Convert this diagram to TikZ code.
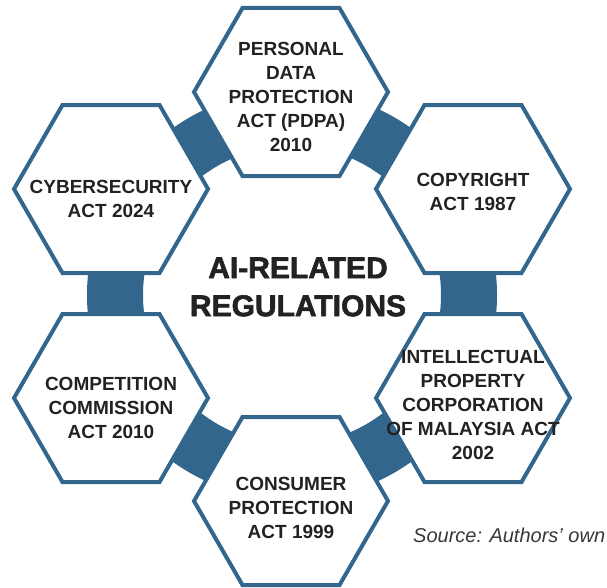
\documentclass[tikz,border=0pt]{standalone}
\usepackage{fontspec}
\setmainfont{Liberation Sans}
\newfontfamily\heavyfont{Liberation Sans}[BoldFeatures={FakeBold=2}]
\usepackage{xcolor}
\usepackage{tikz}
\usetikzlibrary{shapes.geometric}
\definecolor{ringcolor}{RGB}{51,102,140}
\definecolor{inkcolor}{RGB}{34,34,34}

\begin{document}
\begin{tikzpicture}[
    x=1pt, y=-1pt,
    hexa/.style={regular polygon, regular polygon sides=6, draw=ringcolor, line width=4pt, fill=white, minimum size=194pt, inner sep=0pt},
    act/.style={text=inkcolor, font=\bfseries\fontsize{19}{24}\selectfont, align=center},
    title/.style={text=inkcolor, font=\heavyfont\bfseries\fontsize{30}{38}\selectfont, align=center},
    source/.style={text=inkcolor!90, font=\itshape\fontsize{20}{24}\selectfont},
    ring/.style={draw=ringcolor, line width=56pt}
]
\useasboundingbox (0,0) rectangle (607,587);

% Ring behind the hexagons
\coordinate (hub) at (292,295);
\draw[ring] (hub) circle[radius=177pt];

% Centre title
\node[title] (core) at (298,287) {AI-RELATED\\REGULATIONS};

% Hexagons
\node[hexa] (pdpa) at (291,92) {};
\node[hexa] (cyber) at (111,189) {};
\node[hexa] (copy) at (473,189) {};
\node[hexa] (comp) at (111,398) {};
\node[hexa] (ipc) at (473,398) {};
\node[hexa] (cpa) at (291,501) {};

% Act names
\node[act, yshift=-5pt] (pdpatxt) at (pdpa) {PERSONAL\\DATA\\PROTECTION\\ACT (PDPA)\\2010};
\node[act, yshift=-10pt] (cybertxt) at (cyber) {CYBERSECURITY\\ACT 2024};
\node[act, yshift=-3pt] (copytxt) at (copy) {COPYRIGHT\\ACT 1987};
\node[act, yshift=-10pt] (comptxt) at (comp) {COMPETITION\\COMMISSION\\ACT 2010};
\node[act, yshift=-7pt] (ipctxt) at (ipc) {INTELLECTUAL\\PROPERTY\\CORPORATION\\OF MALAYSIA ACT\\2002};
\node[act, yshift=-7pt] (cpatxt) at (cpa) {CONSUMER\\PROTECTION\\ACT 1999};

% Source note
\node[source, anchor=base west, inner sep=0pt] (src) at (413,542) {Source: Authors’ own};

\end{tikzpicture}
\end{document}
